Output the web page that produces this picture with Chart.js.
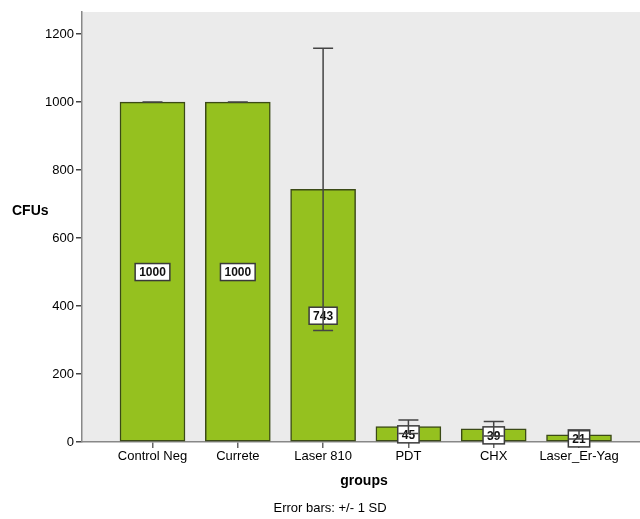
<!DOCTYPE html>
<html>
<head>
<meta charset="utf-8">
<script src="https://cdn.jsdelivr.net/npm/chart.js@4/dist/chart.umd.min.js"></script>
<style>
  html, body { margin: 0; padding: 0; background: #fff; }
  #wrap { width: 640px; height: 519px; }
</style>
</head>
<body>
<div id="wrap"><canvas id="chart" width="640" height="519"></canvas></div>
<script>
const groups = ["Control Neg", "Currete", "Laser 810", "PDT", "CHX", "Laser_Er-Yag"];
const means = [1000, 1000, 743, 45, 39, 21];
const sds = [0, 0, 415, 20, 21, 12];
const yTicks = [0, 200, 400, 600, 800, 1000, 1200];

const FONT = "'Liberation Sans', Arial, sans-serif";

// gray plot background
const plotBg = {
    id: "plotBg",
    beforeDraw(chart) {
        const { ctx, chartArea: a } = chart;
        ctx.save();
        ctx.fillStyle = "#ebebeb";
        ctx.fillRect(a.left, a.top, a.right - a.left, a.bottom - a.top);
        ctx.restore();
    }
};

// value boxes + error bars + loose texts
const extras = {
    id: "extras",
    afterDatasetsDraw(chart) {
        const { ctx } = chart;
        const x = chart.scales.x, y = chart.scales.y;
        ctx.save();

        // value labels in white boxes
        ctx.font = "bold 12px " + FONT;
        ctx.textAlign = "center";
        ctx.textBaseline = "middle";
        means.forEach((m, i) => {
            const cx = x.getPixelForValue(i);
            const cy = y.getPixelForValue(m / 2);
            const label = String(m);
            const w = Math.max(ctx.measureText(label).width + 8, 18);
            const h = 17;
            ctx.fillStyle = "#ffffff";
            ctx.fillRect(cx - w / 2, cy - h / 2, w, h);
            ctx.strokeStyle = "#3a3a3a";
            ctx.lineWidth = 1.5;
            ctx.strokeRect(cx - w / 2, cy - h / 2, w, h);
            ctx.fillStyle = "#111";
            ctx.fillText(label, cx, cy + 1);
        });

        // error bars +/- 1 SD
        ctx.strokeStyle = "#444";
        ctx.lineWidth = 1.5;
        means.forEach((m, i) => {
            const cx = x.getPixelForValue(i);
            const top = y.getPixelForValue(m + sds[i]);
            const bot = y.getPixelForValue(m - sds[i]);
            ctx.beginPath();
            ctx.moveTo(cx, top);
            ctx.lineTo(cx, bot);
            ctx.moveTo(cx - 10, top);
            ctx.lineTo(cx + 10, top);
            ctx.moveTo(cx - 10, bot);
            ctx.lineTo(cx + 10, bot);
            ctx.stroke();
        });

        // titles
        ctx.fillStyle = "#000";
        ctx.font = "bold 14px " + FONT;
        ctx.textAlign = "left";
        ctx.fillText("CFUs", 12, 211);
        ctx.textAlign = "center";
        ctx.fillText("groups", 364, 481);
        ctx.font = "13px " + FONT;
        ctx.fillText("Error bars: +/- 1 SD", 330, 508);
        ctx.restore();
    }
};

new Chart(document.getElementById("chart"), {
    type: "bar",
    data: {
        datasets: [
            {
                data: means.map((v, i) => ({ x: i, y: v })),
                backgroundColor: "#95c11f",
                borderColor: "#3b4a16",
                borderWidth: 1.5,
                borderSkipped: false,
                barThickness: 65
            }
        ]
    },
    options: {
        responsive: false,
        animation: false,
        layout: { padding: { top: 12, left: 0, right: 0, bottom: 0 } },
        plugins: { legend: { display: false }, tooltip: { enabled: false } },
        scales: {
            x: {
                type: "linear",
                offset: false,
                min: -0.8265,
                max: 5.715,
                afterBuildTicks: (s) => { s.ticks = groups.map((g, i) => ({ value: i })); },
                afterFit: (s) => { s.height = 77; },
                ticks: {
                    autoSkip: false,
                    maxRotation: 0,
                    padding: 1,
                    color: "#000",
                    font: { family: FONT, size: 13 },
                    callback: (v) => groups[v]
                },
                grid: { offset: false, drawOnChartArea: false, tickLength: 6, color: "#666", lineWidth: 1.5 },
                border: { color: "#888", width: 1.5 }
            },
            y: {
                min: 0,
                max: 1265,
                afterBuildTicks: (s) => { s.ticks = yTicks.map((v) => ({ value: v })); },
                afterFit: (s) => { s.width = 82; },
                ticks: {
                    padding: 2,
                    color: "#000",
                    font: { family: FONT, size: 13 },
                    callback: (v) => String(v)
                },
                grid: { drawOnChartArea: false, tickLength: 6, color: "#444", lineWidth: 1.5 },
                border: { color: "#888", width: 1.5 }
            }
        }
    },
    plugins: [plotBg, extras]
});
</script>
</body>
</html>
